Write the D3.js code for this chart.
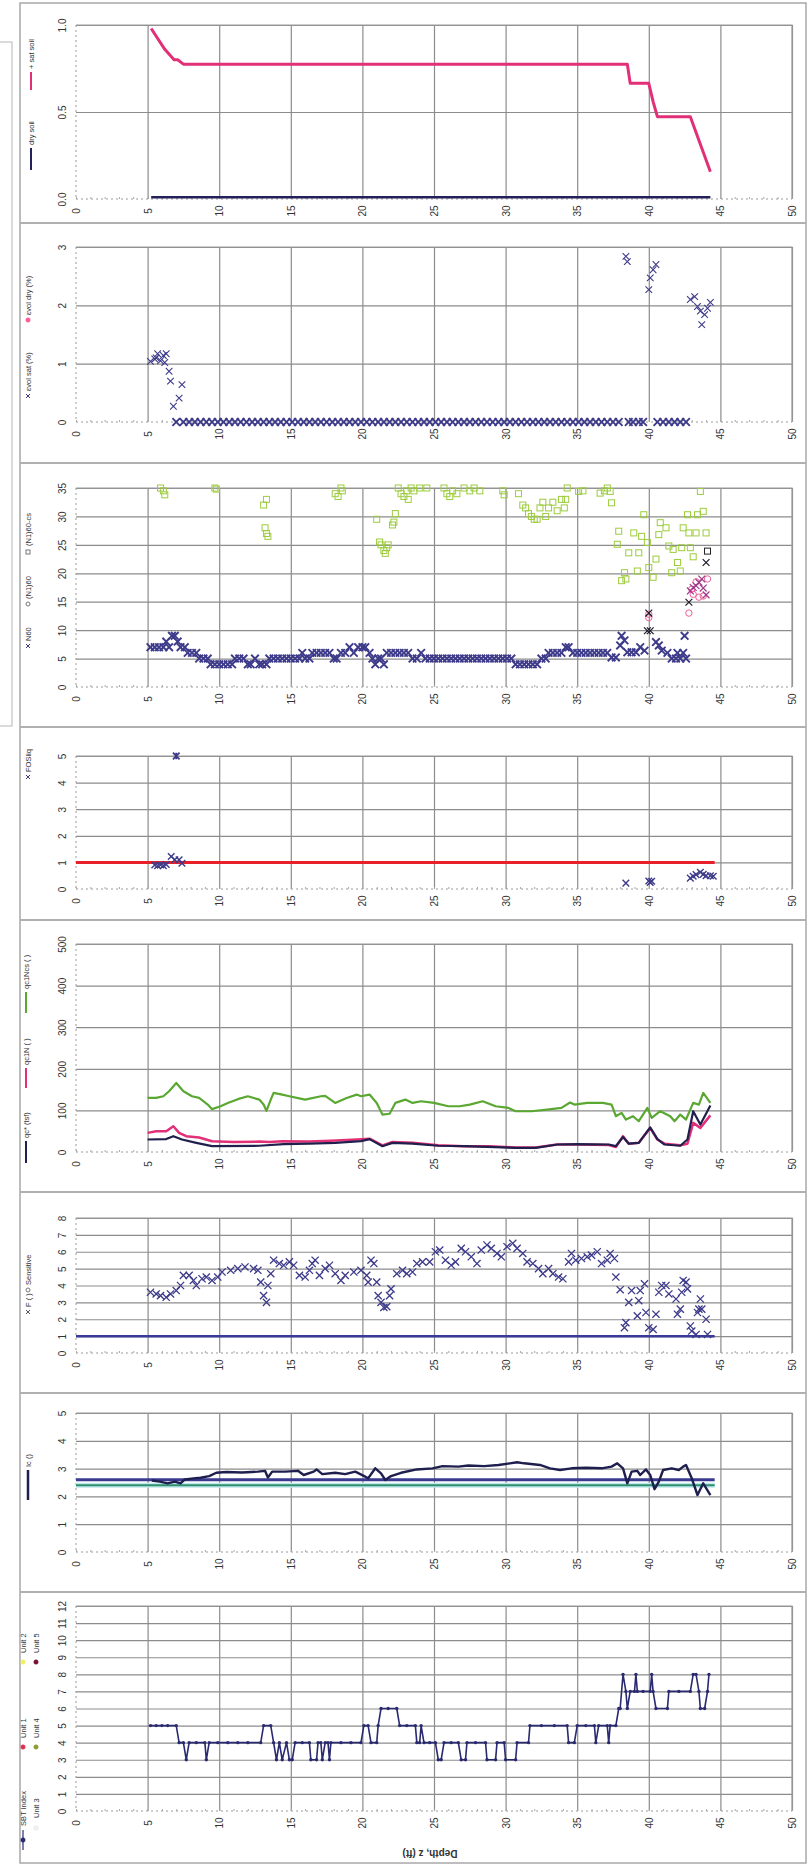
<!DOCTYPE html>
<html><head><meta charset="utf-8">
<script src="https://cdn.jsdelivr.net/npm/d3@7"></script>
<style>
body{margin:0;background:#fff;}
svg{display:block;font-family:"Liberation Sans",Arial,sans-serif;}
</style></head><body>
<svg id="chart" width="808" height="1866"></svg>
<script>
// ---------------- data ----------------
var depthTicks = [0,5,10,15,20,25,30,35,40,45,50];

// panel 1 - settlement ratio lines
var satSoil = [[5.25,0.98],[6.2,0.86],[6.85,0.80],[7.1,0.80],[7.5,0.775],[38.5,0.775],[38.7,0.665],[40.0,0.665],[40.3,0.56],[40.6,0.473],[42.9,0.473],[44.3,0.157]];
var drySoil = [[5.25,0.01],[44.3,0.01]];

// panel 2 - volumetric strain
var volSat = [[5.2,1.04],[5.5,1.08],[5.6,1.1],[5.7,1.17],[5.9,1.05],[6.1,1.14],[6.3,1.17],[6.2,1.02],[6.5,0.87],[6.6,0.70],[6.8,0.27],[7.2,0.41],[7.4,0.64],
  [38.4,2.84],[38.5,2.75],[40.0,2.27],[40.1,2.47],[40.3,2.61],[40.5,2.70],[42.9,2.10],[43.2,2.15],[43.4,1.98],[43.6,1.90],[43.7,1.67],[43.9,1.84],[44.1,1.95],[44.3,2.05]];
var volSatZeroDepths = [7.0,7.5,7.9,8.3,8.7,9.1,9.5,9.9,10.3,10.7,11.1,11.5,11.9,12.3,12.7,13.1,13.5,13.9,14.3,14.7,15.1,15.5,15.9,16.3,16.7,17.1,17.5,17.9,18.3,18.7,19.1,19.5,19.9,20.3,20.7,21.1,21.5,21.9,22.3,22.7,23.1,23.5,23.9,24.3,24.7,25.1,25.5,25.9,26.3,26.7,27.1,27.5,27.9,28.3,28.7,29.1,29.5,29.9,30.3,30.7,31.1,31.5,31.9,32.3,32.7,33.1,33.5,33.9,34.3,34.7,35.1,35.5,35.9,36.3,36.7,37.1,37.5,37.9,38.6,38.9,39.3,39.6,40.6,41.0,41.4,41.8,42.2,42.6];

// panel 3 - blow counts
var n60 = [[5.2,7],[5.5,7],[5.8,7],[6.1,7],[6.3,8],[6.5,7],[6.7,9],[6.9,9],[7.1,8],[7.3,7],[7.6,7],[7.8,6],[8.1,6],[8.4,6],[8.6,5],[8.9,5],[9.2,5],[9.4,4],[9.7,4],[10.0,4],[10.3,4],[10.6,4],[10.9,4],[11.1,5],[11.4,5],[11.7,5],[12.0,4],[12.2,4],[12.5,5],[12.8,4],[13.0,4],[13.3,4],[13.5,5],[13.8,5],[14.1,5],[14.4,5],[14.7,5],[15.0,5],[15.3,5],[15.6,5],[15.8,6],[16.0,5],[16.3,5],[16.5,6],[16.8,6],[17.1,6],[17.4,6],[17.7,6],[18.0,5],[18.2,5],[18.5,6],[18.8,6],[19.1,7],[19.4,6],[19.7,7],[20.0,7],[20.2,7],[20.5,6],[20.7,5],[20.9,4],[21.1,5],[21.3,5],[21.5,4],[21.7,6],[22.0,6],[22.3,6],[22.6,6],[22.9,6],[23.2,6],[23.5,5],[23.8,5],[24.1,6],[24.4,5],[24.7,5],[25.0,5],[25.3,5],[25.6,5],[25.9,5],[26.2,5],[26.5,5],[26.8,5],[27.1,5],[27.4,5],[27.7,5],[28.0,5],[28.3,5],[28.6,5],[28.9,5],[29.2,5],[29.5,5],[29.8,5],[30.1,5],[30.4,5],[30.7,4],[31.0,4],[31.3,4],[31.6,4],[31.9,4],[32.2,4],[32.5,5],[32.8,5],[33.0,6],[33.3,6],[33.6,6],[33.9,6],[34.2,7],[34.4,7],[34.7,6],[35.0,6],[35.3,6],[35.6,6],[35.9,6],[36.2,6],[36.5,6],[36.8,6],[37.1,6],[37.4,5.2],[37.7,5.2],[38.0,7.3],[38.1,9],[38.3,8.2],[38.5,6.1],[38.8,6.1],[39.1,6.1],[39.4,7],[39.7,6.4],[40.5,7.9],[40.7,7.3],[40.9,6.4],[41.3,6],[41.6,5],[41.9,5],[42.0,6],[42.2,5],[42.4,6],[42.5,9],[42.6,5]];
var n60Dark = [[39.9,9.9],[40.1,9.9],[40.0,13],[42.8,14.9],[44.0,21.9]];
var n60Mixed = [[42.9,16.9],[43.1,17.5],[43.3,17.8],[43.5,18.4],[43.7,19],[43.8,17.4],[44.0,16.2]];
var n160 = [[40.0,12.2],[40.0,12.8],[42.8,13],[43.0,17.2],[43.1,16.3],[43.5,15.8],[43.8,16],[44.1,19],[43.3,18.5]];
var n160cs = [[5.9,35],[6.1,34.5],[6.2,33.8],[9.7,35],[9.8,34.8],[13.1,32],[13.3,33],[13.2,28],[13.3,27],[13.4,26.5],
  [18.1,34],[18.3,33.5],[18.5,35],[18.6,34.5],[21.0,29.5],[21.2,25.5],[21.3,25],[21.5,24],[21.6,23.5],[21.7,24.5],[21.8,25],[22.1,28.5],[22.2,29],[22.3,30.5],
  [22.5,35],[22.7,34],[22.9,33.5],[23.1,34.5],[23.2,33],[23.4,35],[23.6,34.5],[24.0,35],[24.5,35],[25.7,35],[25.9,34],[26.1,33.5],[26.3,34.5],[26.6,34],[27.1,35],[27.5,34.5],[27.8,35],[28.2,34.5],
  [29.8,34.5],[29.9,33.8],[30.9,34],[31.2,32],[31.4,31.5],[31.6,30.5],[31.8,30],[32.0,29.5],[32.2,29.5],[32.4,31.5],[32.6,32.5],[32.8,30],[33.0,31.5],[33.3,32.5],[33.6,31],[33.9,33],[34.1,31.5],[34.2,33],[34.3,35],[35.1,34.4],[35.4,34.5],[36.6,34.1],[36.9,34.5],[37.1,35],[37.3,34.4],
  [37.4,32.4],[37.9,27.4],[37.8,25.1],[38.1,18.7],[38.3,20.1],[38.4,19],[38.6,23.6],[38.95,27.1],[39.2,20.4],[39.3,23.6],[39.5,26.5],[39.65,30.3],[39.9,25.4],[40.0,21.0],[40.3,19.3],[40.5,22.5],[40.7,26.8],[40.8,28.9],[41.2,28],[41.4,24.8],[41.6,20.1],[41.7,24.2],[42.0,21.9],[42.2,20.4],[42.3,24.5],[42.4,28],[42.7,30.3],[42.8,27.1],[42.9,24.5],[43.1,22.9],[43.3,27.1],[43.4,30.3],[43.6,34.4],[43.8,30.9],[44.0,27.1]];
var n160csDark = [[44.1,23.9]];

// panel 4 - factor of safety
var fosLiq = [[5.5,0.9],[5.7,0.88],[5.9,0.9],[6.1,0.88],[6.3,0.92],[6.65,1.22],[6.9,1.1],[7.2,1.1],[7.4,0.97],[38.4,0.22],[40.0,0.3],[40.1,0.25],[40.2,0.29],[42.9,0.41],[43.1,0.48],[43.3,0.54],[43.6,0.63],[43.8,0.55],[44.0,0.5],[44.3,0.5],[44.5,0.48]];
var fosCapped = [[7.0,5]];
var fosLimit = [[0,1],[44.6,1]];

// panel 5 - cone resistance
var qc1Ncs = [[5.0,130],[5.6,130],[6.1,134],[6.5,146],[7.0,166],[7.5,146],[8.1,134],[8.6,130],[9.2,114],[9.5,103],[10.1,110],[10.6,118],[11.3,127],[12.0,134],[12.8,126],[13.1,114],[13.3,99],[13.6,126],[13.8,142],[14.4,138],[14.9,134],[16.0,126],[17.1,134],[17.4,135],[18.1,118],[18.9,130],[19.6,138],[19.9,134],[20.5,138],[21.0,118],[21.4,90],[21.9,92],[22.3,118],[23.0,126],[23.5,118],[24.1,122],[25.0,118],[26.0,110],[26.8,110],[27.5,114],[28.4,122],[29.3,110],[30.2,106],[30.7,98],[31.8,98],[32.9,102],[33.9,106],[34.5,119],[34.8,114],[35.7,118],[36.8,118],[37.4,114],[37.7,86],[38.1,94],[38.4,78],[38.9,86],[39.3,74],[39.9,106],[40.2,82],[40.8,98],[41.5,86],[41.8,74],[42.2,90],[42.6,78],[43.1,118],[43.5,114],[43.8,142],[44.3,118]];
var qc1N = [[5.0,46],[5.6,50],[6.3,50],[6.8,62],[7.2,46],[7.7,38],[8.6,35],[9.5,26],[11.0,24],[12.8,25],[13.5,24],[14.4,26],[16.3,25],[17.8,27],[19.6,30],[20.5,32],[21.4,16],[22.1,24],[23.5,22],[25.3,16],[27.1,14],[28.9,14],[30.7,11],[32.1,11],[33.6,18],[35.0,18],[37.2,17],[37.7,12],[38.2,38],[38.6,20],[39.3,22],[40.1,58],[40.6,30],[41.1,20],[42.2,16],[42.7,20],[43.1,70],[43.6,58],[44.3,88]];
var qcTsf = [[5.0,30],[6.3,31],[6.8,38],[7.4,30],[8.4,22],[9.5,14],[12.8,15],[14.5,19],[16.3,20],[18.1,22],[19.9,26],[20.5,31],[21.4,14],[22.1,22],[23.5,20],[25.3,15],[27.1,14],[30.7,10],[32.1,10],[33.6,18],[35.0,19],[37.2,18],[37.7,14],[38.2,36],[38.6,20],[39.3,22],[40.1,59],[40.6,31],[41.1,18],[42.2,15],[42.7,30],[43.1,98],[43.6,66],[44.3,112]];

// panel 6 - F
var fValues = [[5.2,3.6],[5.6,3.5],[5.9,3.4],[6.3,3.3],[6.6,3.5],[7.0,3.7],[7.3,4.0],[7.5,4.6],[7.9,4.6],[8.2,4.3],[8.4,4.0],[8.8,4.4],[9.1,4.5],[9.5,4.3],[9.9,4.5],[10.2,4.8],[10.8,4.9],[11.3,5.0],[11.8,5.1],[12.4,5.0],[12.7,4.9],[12.9,4.2],[13.1,3.4],[13.3,3.0],[13.4,4.0],[13.6,4.7],[13.8,5.5],[14.2,5.3],[14.5,5.2],[14.9,5.4],[15.2,5.2],[15.6,4.6],[16.0,4.5],[16.3,4.9],[16.5,5.3],[16.7,5.5],[17.0,4.6],[17.4,5.0],[17.7,5.2],[18.1,4.7],[18.5,4.3],[18.8,4.6],[19.4,4.8],[19.9,4.9],[20.3,4.6],[20.4,4.2],[20.6,5.5],[20.8,5.3],[21.0,4.2],[21.1,3.4],[21.3,3.0],[21.5,2.7],[21.7,2.75],[21.9,3.4],[22.0,3.8],[22.4,4.7],[22.8,4.9],[23.1,4.7],[23.5,4.8],[23.8,5.3],[24.2,5.4],[24.7,5.4],[25.1,6.0],[25.4,6.1],[25.8,5.5],[26.2,5.2],[26.5,5.4],[26.9,6.2],[27.2,6.0],[27.6,5.7],[28.0,5.3],[28.3,6.1],[28.7,6.4],[29.0,6.2],[29.4,5.9],[29.7,5.7],[30.1,6.3],[30.5,6.5],[30.8,6.2],[31.2,5.9],[31.5,5.4],[31.9,5.3],[32.3,5.0],[32.6,4.7],[33.0,5.0],[33.3,4.7],[33.7,4.5],[34.0,4.4],[34.4,5.4],[34.6,5.9],[34.9,5.5],[35.3,5.6],[35.7,5.7],[36.0,5.8],[36.4,6.0],[36.7,5.3],[37.1,5.5],[37.3,5.9],[37.6,5.6],
  [37.7,4.5],[38.0,3.75],[38.6,3.0],[38.4,1.8],[38.3,1.5],[38.8,3.7],[39.4,3.7],[39.3,3.1],[39.2,2.2],[39.7,4.1],[39.8,2.4],[40.0,1.5],[40.3,1.4],[40.5,2.3],[40.7,3.6],[40.9,4.0],[41.2,4.0],[41.4,3.5],[41.9,3.2],[42.0,2.3],[42.2,2.6],[42.3,3.6],[42.6,4.2],[42.4,4.3],[42.7,3.8],[42.9,1.6],[43.0,1.3],[43.3,1.1],[43.4,2.4],[43.5,2.6],[43.6,3.2],[43.7,2.6],[44.0,2.0],[44.1,1.1]];
var fLimit = [[0,1],[44.6,1]];

// panel 7 - Ic
var icValues = [[5.3,2.57],[5.85,2.53],[6.4,2.47],[6.9,2.53],[7.3,2.47],[7.6,2.61],[8.2,2.65],[8.7,2.67],[9.3,2.73],[9.8,2.85],[10.5,2.88],[11.6,2.86],[12.7,2.89],[13.2,2.92],[13.4,2.68],[13.7,2.89],[14.6,2.89],[15.5,2.92],[15.9,2.77],[16.6,2.89],[16.8,2.97],[17.2,2.80],[18.1,2.85],[18.8,2.80],[19.5,2.89],[20.2,2.71],[20.4,2.65],[20.9,3.01],[21.3,2.83],[21.6,2.59],[22.0,2.73],[22.7,2.85],[23.8,2.97],[24.9,3.01],[25.6,3.09],[26.7,3.07],[27.4,3.11],[28.5,3.09],[29.5,3.13],[30.3,3.19],[30.8,3.23],[31.3,3.19],[32.4,3.13],[33.1,3.01],[33.8,2.95],[34.6,3.01],[35.6,3.03],[36.7,3.01],[37.4,3.07],[37.8,3.19],[38.2,3.01],[38.5,2.47],[38.8,2.89],[39.2,2.92],[39.4,2.77],[39.8,2.97],[40.1,2.77],[40.4,2.26],[40.7,2.53],[41.0,2.95],[41.6,3.01],[42.1,2.95],[42.4,3.07],[42.6,3.13],[43.0,2.65],[43.4,2.05],[43.8,2.47],[44.3,2.05]];
var icUpper = [[0,2.6],[44.6,2.6]];
var icLower = [[0,2.4],[44.6,2.4]];

// panel 8 - SBT index
var sbtIndex = [[5.2,5],[5.6,5],[6.0,5],[6.4,5],[7.0,5],[7.2,4],[7.5,4],[7.7,3],[7.9,4],[8.4,4],[9.0,4],[9.1,3],[9.3,4],[9.9,4],[10.6,4],[11.3,4],[12.0,4],[12.9,4],[13.1,5],[13.6,5],[13.8,4],[14.0,3],[14.2,4],[14.4,3],[14.7,4],[14.9,3],[15.1,3],[15.3,4],[15.8,4],[16.3,4],[16.4,3],[16.8,3],[16.9,4],[17.1,4],[17.2,3],[17.4,4],[17.6,4],[17.7,3],[17.8,4],[18.5,4],[19.2,4],[19.9,4],[20.1,5],[20.4,5],[20.6,4],[21.0,4],[21.1,5],[21.3,6],[21.8,6],[22.4,6],[22.6,5],[23.1,5],[23.7,5],[23.8,4],[24.0,4],[24.1,5],[24.3,4],[24.7,4],[25.1,4],[25.3,3],[25.5,3],[25.7,4],[26.2,4],[26.7,4],[26.9,3],[27.2,3],[27.3,4],[27.9,4],[28.6,4],[28.7,3],[29.3,3],[29.4,4],[29.9,4],[30.0,3],[30.7,3],[30.8,4],[31.6,4],[31.7,5],[32.5,5],[33.4,5],[34.3,5],[34.4,4],[34.8,4],[35.0,5],[35.6,5],[36.2,5],[36.3,4],[36.5,5],[37.1,5],[37.2,4],[37.3,5],[37.7,5],[37.9,6],[38.0,6],[38.2,8],[38.4,7],[38.5,6],[38.7,7],[39.0,7],[39.1,8],[39.2,7],[39.6,7],[40.1,7],[40.2,8],[40.3,7],[40.5,6],[41.3,6],[41.4,7],[42.1,7],[42.9,7],[43.1,8],[43.3,8],[43.5,7],[43.6,6],[43.9,6],[44.1,7],[44.2,8]];

// value axes
var ticksP1 = [0,0.5,1];
var ticksP2 = [0,1,2,3];
var ticksP3 = [0,5,10,15,20,25,30,35];
var ticksP4 = [0,1,2,3,4,5];
var ticksP5 = [0,100,200,300,400,500];
var ticksP6 = [0,1,2,3,4,5,6,7,8];
var ticksP7 = [0,1,2,3,4,5];
var ticksP8 = [0,1,2,3,4,5,6,7,8,9,10,11,12];

// ---------------- layout ----------------
var svg = d3.select('#chart');
var x = d3.scaleLinear().domain([0,50]).range([76,792]);
var gridColor = '#8c8c8c';
var textColor = '#333';

var navy = '#3d3a8a';
var pink = '#e23078';

// page frame
svg.append('rect').attr('x',20).attr('y',3).attr('width',786).attr('height',1860)
   .attr('fill','none').attr('stroke','#a8a8a8').attr('stroke-width',1.5);
svg.append('rect').attr('x',-1).attr('y',42).attr('width',13).attr('height',684)
   .attr('fill','none').attr('stroke','#b5b5b5').attr('stroke-width',1);
[223,463,727,920,1192,1393,1592].forEach(function(yy){
    svg.append('line').attr('x1',20).attr('x2',806).attr('y1',yy).attr('y2',yy)
       .attr('stroke','#b0b0b0').attr('stroke-width',2.2);
});

function panel(top, bottom, ticks, fmt){
    var y = d3.scaleLinear().domain([0, d3.max(ticks)]).range([bottom, top]);
    var g = svg.append('g');
    // vertical gridlines
    g.append('g').attr('transform','translate(0,'+bottom+')')
     .call(d3.axisBottom(x).tickValues(depthTicks.slice(1)).tickSize(-(bottom-top)).tickFormat(''))
     .call(s=>s.select('.domain').remove())
     .selectAll('line').attr('stroke',gridColor).attr('stroke-width',1.2);
    // horizontal gridlines
    g.append('g').attr('transform','translate('+x(0)+',0)')
     .call(d3.axisLeft(y).tickValues(ticks.slice(1)).tickSize(-(x(50)-x(0))).tickFormat(''))
     .call(s=>s.select('.domain').remove())
     .selectAll('line').attr('stroke',gridColor).attr('stroke-width',1.2);
    // axis lines (dotted look of the scan)
    g.append('line').attr('x1',x(0)).attr('x2',x(50)).attr('y1',bottom).attr('y2',bottom)
     .attr('stroke','#9a9a9a').attr('stroke-dasharray','2,3');
    g.append('line').attr('x1',x(0)).attr('x2',x(0)).attr('y1',top).attr('y2',bottom)
     .attr('stroke','#9a9a9a').attr('stroke-dasharray','2,3');
    // minor ticks
    g.append('g').attr('transform','translate(0,'+bottom+')')
     .call(d3.axisBottom(x).ticks(50).tickSize(-2).tickFormat(''))
     .call(s=>s.select('.domain').remove())
     .selectAll('line').attr('stroke','#aaa');
    // depth labels
    var xa = g.append('g').attr('transform','translate(0,'+bottom+')')
     .call(d3.axisBottom(x).tickValues(depthTicks).tickSize(0));
    xa.select('.domain').remove();
    xa.selectAll('text').attr('y',0).attr('dy',0)
      .attr('transform','translate(0,12) rotate(-90)')
      .attr('text-anchor','middle').attr('dominant-baseline','central')
      .attr('fill',textColor).attr('font-size',10).attr('font-family','"Liberation Sans",Arial,sans-serif');
    // value labels
    var ya = g.append('g').attr('transform','translate('+x(0)+',0)')
     .call(d3.axisLeft(y).tickValues(ticks).tickSize(0).tickFormat(fmt));
    ya.select('.domain').remove();
    ya.selectAll('text').attr('x',0).attr('dy',0)
      .attr('transform','translate(-14,0) rotate(-90)')
      .attr('text-anchor','middle').attr('dominant-baseline','central')
      .attr('fill',textColor).attr('font-size',10).attr('font-family','"Liberation Sans",Arial,sans-serif');
    // plot border top/right
    g.append('path').attr('d','M'+x(0)+','+top+'H'+x(50)+'V'+bottom)
     .attr('fill','none').attr('stroke','#999').attr('stroke-width',1.2);
    return y;
}

function xPath(s){ return 'M'+(-s)+','+(-s)+'L'+s+','+s+'M'+(-s)+','+s+'L'+s+','+(-s); }
function starPath(s){ return xPath(s)+'M0,'+(-s)+'V'+s; }

function marks(data, y, d, color, w){
    svg.append('g').selectAll('path').data(data).join('path')
       .attr('transform', p => 'translate('+x(p[0])+','+y(p[1])+')')
       .attr('d', d).attr('fill','none').attr('stroke',color).attr('stroke-width',w||1.2);
}
function squares(data, y, color){
    svg.append('g').selectAll('rect').data(data).join('rect')
       .attr('x', p => x(p[0])-3).attr('y', p => y(p[1])-3).attr('width',6).attr('height',6)
       .attr('fill','none').attr('stroke',color).attr('stroke-width',1);
}
function circles(data, y, color){
    svg.append('g').selectAll('circle').data(data).join('circle')
       .attr('cx', p => x(p[0])).attr('cy', p => y(p[1])).attr('r',3.2)
       .attr('fill','none').attr('stroke',color).attr('stroke-width',1);
}
function line(data, y, color, w){
    svg.append('path').datum(data)
       .attr('d', d3.line().x(p => x(p[0])).y(p => y(p[1])))
       .attr('fill','none').attr('stroke',color).attr('stroke-width',w)
       .attr('stroke-linejoin','round');
}

// legend helpers (text reads bottom to top)
function legText(xx, yy, label){
    svg.append('text').attr('transform','translate('+xx+','+yy+') rotate(-90)')
       .attr('dominant-baseline','central').attr('font-size',7.5).attr('fill',textColor).text(label);
}
function legLine(xx, y1, y2, color, w){
    svg.append('line').attr('x1',xx).attr('x2',xx).attr('y1',y1).attr('y2',y2)
       .attr('stroke',color).attr('stroke-width',w);
}
function legMark(xx, yy, d, color){
    svg.append('path').attr('transform','translate('+xx+','+yy+')').attr('d',d)
       .attr('fill','none').attr('stroke',color).attr('stroke-width',1);
}
function legDot(xx, yy, color, stroke){
    svg.append('circle').attr('cx',xx).attr('cy',yy).attr('r',2.2)
       .attr('fill',color).attr('stroke',stroke||color).attr('stroke-width',0.6);
}

// ---------------- panel 1 ----------------
var y1 = panel(25,199,ticksP1,d3.format('.1f'));
line(drySoil, y1, '#23205a', 2.5);
line(satSoil, y1, pink, 3);
legLine(31,148,170,'#23205a',2); legText(31,145,'dry soil');
legLine(31,72,90,pink,2); legText(31,69,'+ sat soil');

// ---------------- panel 2 ----------------
var y2 = panel(247,422,ticksP2,d3.format('d'));
marks(volSatZeroDepths.map(d => [d,0]), y2, xPath(3.8), navy, 1.9);
marks(volSat, y2, xPath(3.3), navy, 1.1);
legMark(28,396,xPath(2),navy); legText(28,391,'εvol sat (%)');
legDot(28,320,'#ff5c9a'); legText(28,315,'εvol dry (%)');

// ---------------- panel 3 ----------------
var y3 = panel(488,687,ticksP3,d3.format('d'));
squares(n160cs, y3, '#9ccc3c');
squares(n160csDark, y3, '#222');
marks(n60, y3, xPath(3.8), navy, 1.9);
circles(n160, y3, '#f0609a');
marks(n60Mixed, y3, xPath(3.4), '#a03a8a', 1.2);
marks(n60Dark, y3, xPath(3.4), '#1a1a2a', 1.2);
legMark(28,646,xPath(2),navy); legText(28,641,'N60');
svg.append('circle').attr('cx',28).attr('cy',604).attr('r',2).attr('fill','none').attr('stroke','#777');
legText(28,599,'(N1)60');
svg.append('rect').attr('x',26).attr('y',550).attr('width',4).attr('height',4).attr('fill','none').attr('stroke','#777');
legText(28,546,'(N1)60-cs');

// ---------------- panel 4 ----------------
var y4 = panel(756,889,ticksP4,d3.format('d'));
line(fosLimit, y4, '#e8202a', 3);
marks(fosLiq, y4, xPath(3.3), navy, 1.4);
marks(fosCapped, y4, starPath(3.3), navy, 1.8);
legMark(28,777,xPath(2),navy); legText(28,772,'FOSliq');

// ---------------- panel 5 ----------------
var y5 = panel(944,1152,ticksP5,d3.format('d'));
line(qc1Ncs, y5, '#5aa832', 2.2);
line(qc1N, y5, pink, 2.5);
line(qcTsf, y5, '#20204e', 2.2);
legLine(26,1141,1163,'#20204e',2); legText(26,1138,'qc* (tsf)');
legLine(26,1068,1088,pink,2); legText(26,1065,'qc1N ( )');
legLine(26,992,1013,'#5aa832',2); legText(26,989,'qc1Ncs ( )');

// ---------------- panel 6 ----------------
var y6 = panel(1218,1353,ticksP6,d3.format('d'));
line(fLimit, y6, '#3a3a9a', 2.5);
marks(fValues, y6, xPath(3.6), navy, 1.3);
legMark(28,1312,xPath(2),'#555'); legText(28,1307,'F ( )');
svg.append('circle').attr('cx',28).attr('cy',1290).attr('r',2).attr('fill','none').attr('stroke','#777');
legText(28,1285,'Sensitive');

// ---------------- panel 7 ----------------
var y7 = panel(1413,1552,ticksP7,d3.format('d'));
line(icLower, y7, '#bfe9ea', 5);
line(icLower, y7, '#2f8f6f', 2);
line(icUpper, y7, '#3a3a90', 3);
line(icValues, y7, '#1f1f4f', 2.4);
legLine(28,1470,1500,'#1f1f4f',2.5); legText(28,1467,'Ic ()');

// ---------------- panel 8 ----------------
var y8 = panel(1606,1811,ticksP8,d3.format('d'));
line(sbtIndex, y8, '#2a2a70', 1.6);
svg.append('g').selectAll('circle').data(sbtIndex).join('circle')
   .attr('cx', p => x(p[0])).attr('cy', p => y8(p[1])).attr('r',1.7).attr('fill','#2a2a70');
legLine(23,1830,1850,'#2a2a70',1.2); legDot(23,1840,'#2a2a70'); legText(23,1826,'SBT Index');
legDot(36,1828,'#f4f4f4','#ddd'); legText(36,1818,'Unit 3');
legDot(23,1747,'#e03050'); legText(23,1738,'Unit 1');
legDot(36,1747,'#8aa030'); legText(36,1738,'Unit 4');
legDot(23,1662,'#f2f060'); legText(23,1653,'Unit 2');
legDot(36,1662,'#7a1030'); legText(36,1653,'Unit 5');

// axis title (upside down in the scan)
svg.append('text').attr('transform','translate(430,1853) rotate(180)')
   .attr('text-anchor','middle').attr('dominant-baseline','central')
   .attr('font-size',10).attr('font-weight','bold').attr('fill',textColor).text('Depth, z (ft)');
</script></body></html>
